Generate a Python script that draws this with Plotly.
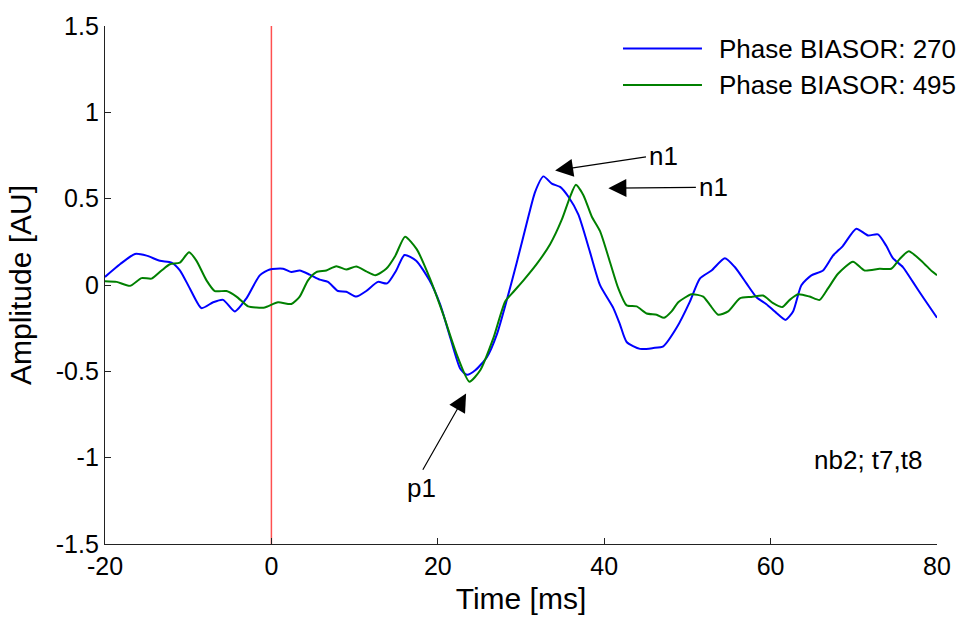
import plotly.graph_objects as go

# ---- data ----
time_270 = [-20.0, -18.2, -16.4, -15.0, -13.4, -12.0, -11.0, -9.8, -8.4, -7.0, -5.8, -4.4, -3.0, -1.4,
            -0.2, 1.4, 2.4, 3.4, 4.6, 5.8, 6.8, 8.0, 9.0, 10.2, 11.4, 12.8, 13.9, 15.0, 16.0, 17.4,
            19.0, 20.3, 21.5, 22.7, 23.5, 24.5, 25.9, 27.1, 28.3, 29.5, 30.7, 31.7, 32.7, 33.7,
            34.7, 35.7, 36.9, 38.3, 39.5, 41.1, 41.9, 42.7, 44.3, 45.9, 47.1, 48.7, 50.3, 51.5,
            52.9, 54.5, 55.7, 57.1, 58.3, 59.5, 60.7, 61.8, 62.7, 63.7, 64.9, 66.3, 67.5, 68.7,
            70.3, 71.7, 72.9, 73.9, 74.7, 75.9, 77.1, 78.4, 80.0]
amp_270 = [0.047, 0.12, 0.18, 0.17, 0.14, 0.13, 0.085, -0.02, -0.134, -0.10, -0.086, -0.153, -0.077, 0.056,
           0.09, 0.094, 0.075, 0.084, 0.06, 0.031, 0.018, -0.035, -0.039, -0.067, -0.035, 0.018, 0.009, 0.084, 0.174, 0.141,
           0.027, -0.115, -0.305, -0.485, -0.52, -0.494, -0.418, -0.286, -0.086, 0.132, 0.36, 0.54, 0.629, 0.587,
           0.568, 0.511, 0.407, 0.189, -0.001, -0.134, -0.229, -0.33, -0.37, -0.365, -0.355, -0.248, -0.096, 0.037,
           0.084, 0.155, 0.104, 0.009, -0.071, -0.111, -0.162, -0.202, -0.153, -0.001, 0.056, 0.084, 0.17, 0.227,
           0.326, 0.287, 0.293, 0.227, 0.155, 0.104, 0.018, -0.077, -0.19]

time_495 = [-20.0, -18.6, -17.0, -15.6, -14.4, -13.2, -12.2, -11.0, -9.9, -9.0, -7.8, -6.8, -5.4, -4.2,
            -2.8, -1.8, -0.8, 0.8, 2.4, 3.4, 4.4, 5.4, 6.6, 7.8, 9.0, 10.2, 11.4, 12.5, 13.8, 14.9,
            16.06, 17.46, 19.06, 20.66, 22.26, 23.8, 25.1, 26.7, 28.1, 29.1, 30.3, 31.9, 33.5, 34.9,
            35.9, 36.6, 37.5, 38.5, 39.5, 40.7, 41.7, 42.7, 43.9, 45.1, 46.3, 47.2, 48.1, 48.9,
            50.5, 51.9, 52.7, 53.7, 54.9, 56.3, 57.7, 59.1, 60.3, 61.4, 62.3, 63.3, 64.7, 65.9,
            66.9, 68.1, 69.9, 71.3, 73.1, 74.5, 75.5, 76.6, 78.1, 79.4, 80.0]
amp_495 = [0.022, 0.018, -0.005, 0.04, 0.037, 0.084, 0.12, 0.13, 0.19, 0.14, 0.027, -0.035, -0.035, -0.067,
           -0.124, -0.13, -0.13, -0.10, -0.11, -0.067, 0.027, 0.075, 0.084, 0.109, 0.09, 0.107, 0.079, 0.056, 0.094, 0.17,
           0.28, 0.208, 0.037, -0.172, -0.40, -0.56, -0.494, -0.305, -0.096, -0.039, 0.027, 0.122, 0.236, 0.378,
           0.511, 0.58, 0.52, 0.397, 0.312, 0.132, -0.02, -0.118, -0.124, -0.165, -0.172, -0.19, -0.153, -0.10,
           -0.054, -0.067, -0.115, -0.172, -0.153, -0.077, -0.069, -0.061, -0.105, -0.128, -0.086, -0.054, -0.067, -0.086,
           -0.02, 0.065, 0.135, 0.084, 0.094, 0.094, 0.15, 0.195, 0.141, 0.079, 0.056]

series_names = ["Phase BIASOR: 270", "Phase BIASOR: 495"]
onset_ms = 0
x_ticks = [-20, 0, 20, 40, 60, 80]
x_tick_labels = ["-20", "0", "20", "40", "60", "80"]
y_ticks = [1.5, 1, 0.5, 0, -0.5, -1, -1.5]
y_tick_labels = ["1.5", "1", "0.5", "0", "-0.5", "-1", "-1.5"]

FONT = "Liberation Sans, Arial, sans-serif"
BLUE = "#0000ff"
GREEN = "#008000"

fig = go.Figure()
fig.add_trace(go.Scatter(x=[onset_ms, onset_ms], y=[y_ticks[-1], y_ticks[0]], mode="lines",
                         line=dict(color="rgb(255,80,80)", width=1.5), showlegend=False, hoverinfo="skip"))
fig.add_trace(go.Scatter(x=time_270, y=amp_270, mode="lines", name=series_names[0],
                         line=dict(color=BLUE, width=2, shape="spline", smoothing=0.6), showlegend=False))
fig.add_trace(go.Scatter(x=time_495, y=amp_495, mode="lines", name=series_names[1],
                         line=dict(color=GREEN, width=2, shape="spline", smoothing=0.6), showlegend=False))

# manual legend (long line samples like the reference)
shapes = []
annotations = []
for i, (nm, col) in enumerate(zip(series_names, [BLUE, GREEN])):
    yy = 0.9564 - i * 0.0703
    shapes.append(dict(type="line", xref="paper", yref="paper", x0=0.6226, x1=0.7175, y0=yy, y1=yy,
                       line=dict(color=col, width=2)))
    annotations.append(dict(xref="paper", yref="paper", x=0.736, y=yy, text=nm, showarrow=False,
                            xanchor="left", yanchor="middle", font=dict(size=26, color="black", family=FONT)))

# arrows (tip -> tail)
arrows = [((34.1, 0.663), (45.2, 0.743)), ((40.5, 0.561), (51.2, 0.566)), ((23.4, -0.629), (18.1, -1.079))]
for (tx, ty), (sx, sy) in arrows:
    annotations.append(dict(x=tx, y=ty, ax=sx, ay=sy, xref="x", yref="y", axref="x", ayref="y", text="",
                            showarrow=True, arrowhead=2, arrowsize=3, arrowwidth=1.2, arrowcolor="black"))
labels = [("n1", 47.1, 0.748), ("n1", 53.1, 0.566), ("p1", 18.1, -1.175), ("nb2; t7,t8", 71.7, -1.016)]
for t, x, y in labels:
    annotations.append(dict(x=x, y=y, xref="x", yref="y", text=t, showarrow=False,
                            font=dict(size=26, color="black", family=FONT)))

fig.update_layout(
    width=963, height=621,
    margin=dict(l=105, r=26, t=23, b=71),
    paper_bgcolor="white", plot_bgcolor="white",
    font=dict(family=FONT, size=25, color="black"),
    shapes=shapes, annotations=annotations, showlegend=False,
)
fig.update_xaxes(range=[-20, 80], tickvals=x_ticks, ticktext=x_tick_labels, ticks="inside", ticklen=6,
                 tickcolor="#222", showline=True, linecolor="#222", linewidth=1.3, showgrid=False,
                 zeroline=False, title=dict(text="Time [ms]", standoff=8), tickfont=dict(size=25))
fig.update_yaxes(range=[-1.5, 1.5], tickvals=y_ticks, ticktext=y_tick_labels, ticks="inside", ticklen=6,
                 tickcolor="#222", showline=True, linecolor="#222", linewidth=1.3, showgrid=False,
                 zeroline=False, title=dict(text="Amplitude [AU]", standoff=15), tickfont=dict(size=25))

fig.write_html("out.html")
